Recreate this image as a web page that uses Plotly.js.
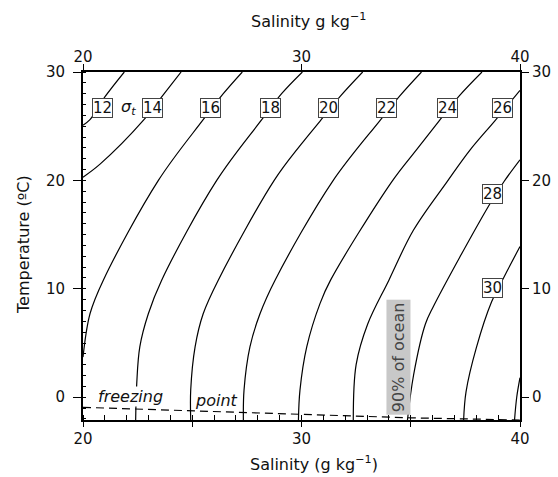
<!DOCTYPE html>
<html><head><meta charset="utf-8">
<script src="https://cdn.plot.ly/plotly-3.0.1.min.js"></script>
<style>html,body{margin:0;padding:0;background:#fff}#chart{width:558px;height:477px}</style>
</head><body><div id="chart"></div>
<script>
// sigma-t contour lines: salinity (g/kg) and temperature (degC)
const s12 = [21.89, 21.0, 20.32, 20.0];
const t12 = [30, 27.7, 25.6, 25.1];
const s14 = [24.49, 23.6, 22.79, 20.78, 20.0];
const t14 = [30, 27.7, 25.6, 21.5, 20.3];
const s16 = [27.29, 26.42, 25.5, 23.45, 20.93, 20.32, 20.0];
const t16 = [30, 28.0, 25.6, 20, 10.8, 7.7, 3.7];
const s18 = [30.04, 29.09, 28.18, 26.12, 23.6, 22.99, 22.6, 22.46, 22.41];
const t18 = [30, 28, 25.6, 20, 10.8, 7.7, 4.65, 1.28, -2.1];
const s20 = [32.8, 31.79, 30.86, 29.97, 28.75, 26.19, 25.5, 25.13, 24.93, 24.93];
const t20 = [30, 27.8, 25.5, 23.3, 20, 10.8, 7.7, 4.65, 0.66, -2.1];
const s22 = [35.49, 34.5, 33.58, 31.4, 28.79, 28.1, 27.64, 27.37, 27.34];
const t22 = [30, 27.8, 25.5, 19.85, 10.8, 7.7, 4.65, 0.66, -2.1];
const s24 = [38.26, 37.22, 36.3, 35.25, 34.12, 31.33, 30.85, 30.24, 29.93, 29.86];
const t24 = [30, 27.8, 25.5, 22.8, 19.85, 10.8, 8.66, 4.65, 0.66, -2.1];
const s26 = [40.0, 38.85, 37.71, 36.65, 35.12, 34.0, 33.03, 32.5, 32.37];
const t26 = [28.3, 25.5, 22.8, 19.85, 15.4, 10.8, 6.75, 3.0, -2.1];
const s28 = [40.0, 39.27, 38.55, 36.03, 35.67, 35.13, 34.85];
const t28 = [21.9, 19.9, 17.6, 8.35, 6.75, 2.05, -2.1];
const s30 = [40.0, 39.27, 38.7, 38.0, 37.53, 37.42];
const t30 = [13.9, 11.1, 8.8, 4.55, 0.5, -2.1];
const s32 = [40.0, 39.85, 39.75];
const t32 = [1.8, 0.0, -2.1];
// freezing point line
const sFreeze = [20, 25, 30, 35, 40];
const tFreeze = [-0.93, -1.25, -1.62, -1.9, -2.1];
// contour labels
const labelText = ['12', '14', '16', '18', '20', '22', '24', '26', '28', '30'];
const labelS = [20.87, 23.16, 25.84, 28.56, 31.23, 33.91, 36.66, 39.22, 38.72, 38.72];
const labelT = [26.68, 26.68, 26.68, 26.68, 26.68, 26.68, 26.68, 26.68, 18.75, 10.07];
// axis ticks
const xTickVals = [20, 25, 30, 35, 40];
const xTickText = ['20', '', '30', '', '40'];
const xTopTicks = [20, 30, 40];
const yTickVals = [0, 10, 20, 30];

const FONT = 'DejaVu Sans, sans-serif';
const contours = [[s12,t12],[s14,t14],[s16,t16],[s18,t18],[s20,t20],[s22,t22],[s24,t24],[s26,t26],[s28,t28],[s30,t30],[s32,t32]];
const traces = contours.map(([s,t]) => ({
  x: s, y: t, type: 'scatter', mode: 'lines', line: {color: '#000', width: 1.2, shape: 'spline', smoothing: 1.0},
  hoverinfo: 'skip', showlegend: false
}));
traces.push({x: sFreeze, y: tFreeze, type: 'scatter', mode: 'lines',
  line: {color: '#000', width: 1.2, dash: '8px,5px'}, showlegend: false, hoverinfo: 'skip'});
// invisible trace to anchor the top/right axes
traces.push({x: [20, 40], y: [0, 0], xaxis: 'x2', yaxis: 'y2', type: 'scatter', mode: 'markers',
  marker: {opacity: 0}, showlegend: false, hoverinfo: 'skip'});

const annotations = labelText.map((txt, i) => ({
  x: labelS[i], y: labelT[i], xref: 'x', yref: 'y', text: txt, showarrow: false,
  font: {family: FONT, size: 15, color: '#111'}, bgcolor: '#fff', bordercolor: '#444', borderwidth: 1, borderpad: 0
}));
annotations.push({x: 22.06, y: 26.68, xref: 'x', yref: 'y', text: '<i>σ<sub>t</sub></i>', showarrow: false,
  font: {family: FONT, size: 16, color: '#111'}});
annotations.push({x: 22.17, y: 0.11, xref: 'x', yref: 'y', text: '<i>freezing</i>', showarrow: false,
  font: {family: FONT, size: 16, color: '#111'}, bgcolor: '#fff', borderpad: 0});
annotations.push({x: 26.09, y: -0.26, xref: 'x', yref: 'y', text: '<i>point</i>', showarrow: false,
  font: {family: FONT, size: 16, color: '#111'}});
annotations.push({x: 34.42, y: 3.7, xref: 'x', yref: 'y', text: '90% of ocean', showarrow: false, textangle: -90,
  font: {family: FONT, size: 16, color: '#444'}, bgcolor: '#c8c8c8', borderpad: 2});

const L = 83, R = 38, T = 72, B = 57, W = 558, H = 477;
const pw = W - L - R, ph = H - T - B;
const px2x = p => (p - L) / pw;          // pixel x -> paper x
const py2y = p => (H - B - p) / ph;      // pixel y (from top) -> paper y
annotations.push({x: px2x(308), y: py2y(20), xref: 'paper', yref: 'paper', xanchor: 'center', yanchor: 'middle',
  text: 'Salinity g kg<sup>−1</sup>', showarrow: false, font: {family: FONT, size: 16, color: '#111'}});
annotations.push({x: px2x(314), y: py2y(463), xref: 'paper', yref: 'paper', xanchor: 'center', yanchor: 'middle',
  text: 'Salinity (g kg<sup>−1</sup>)', showarrow: false, font: {family: FONT, size: 16, color: '#111'}});
annotations.push({x: px2x(23), y: py2y(245), xref: 'paper', yref: 'paper', xanchor: 'center', yanchor: 'middle',
  text: 'Temperature (ºC)', showarrow: false, textangle: -90, font: {family: FONT, size: 16, color: '#111'}});

const axisCommon = {showgrid: false, zeroline: false, showline: true, linecolor: '#000', linewidth: 2,
  tickcolor: '#000', tickwidth: 1, tickfont: {family: FONT, size: 15, color: '#111'}};
const layout = {
  width: W, height: H, margin: {l: L, r: R, t: T, b: B, pad: 0},
  paper_bgcolor: '#fff', plot_bgcolor: '#fff', font: {family: FONT}, showlegend: false,
  xaxis: Object.assign({}, axisCommon, {range: [20, 40], tickmode: 'array', tickvals: xTickVals, ticktext: xTickText,
    ticks: 'outside', ticklen: 5, minor: {dtick: 1, ticks: 'inside', ticklen: 5, tickcolor: '#000', tickwidth: 1},
    ticklabelstandoff: -1}),
  xaxis2: Object.assign({}, axisCommon, {range: [20, 40], overlaying: 'x', side: 'top', tickmode: 'array', tickvals: xTopTicks,
    ticks: 'outside', ticklen: 6, ticklabelstandoff: -4}),
  yaxis: Object.assign({}, axisCommon, {range: [-2.1, 30], tickmode: 'array', tickvals: yTickVals,
    ticks: 'outside', ticklen: 8, minor: {dtick: 1, ticks: 'inside', ticklen: 3, tickcolor: '#000', tickwidth: 1},
    ticklabelstandoff: 5}),
  yaxis2: Object.assign({}, axisCommon, {range: [-2.1, 30], overlaying: 'y', side: 'right', tickmode: 'array', tickvals: yTickVals,
    ticks: 'outside', ticklen: 7}),
  annotations: annotations
};
Plotly.newPlot('chart', traces, layout, {staticPlot: true, displayModeBar: false});
</script></body></html>
